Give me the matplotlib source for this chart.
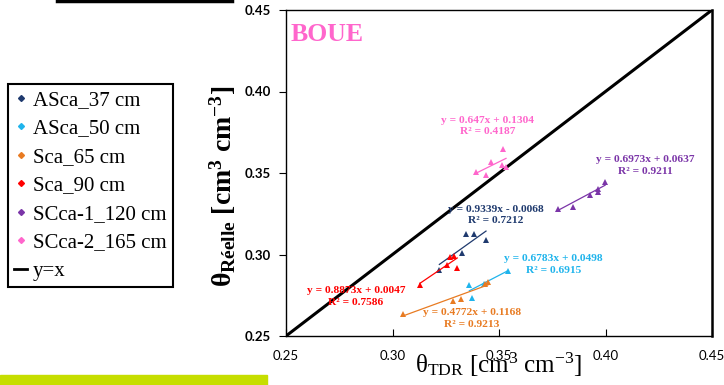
import numpy as np
import matplotlib
matplotlib.use('Agg')
import matplotlib.pyplot as plt
from matplotlib.lines import Line2D
from matplotlib.patches import Rectangle

plt.rcParams['mathtext.fontset'] = 'custom'
plt.rcParams['mathtext.rm'] = 'Liberation Serif'
plt.rcParams['mathtext.it'] = 'Liberation Serif:italic'
plt.rcParams['mathtext.bf'] = 'Liberation Serif:bold'

# series (theta TDR, theta reelle)
names = ['ASca_37 cm', 'ASca_50 cm', 'Sca_65 cm', 'Sca_90 cm', 'SCca-1_120 cm', 'SCca-2_165 cm']
colors = ['#1f3a6e', '#1fb4ec', '#e87b22', '#ff0000', '#7b35a8', '#ff66cc']

x_asca37 = [0.3345, 0.3383, 0.3439, 0.3325, 0.3220]
y_asca37 = [0.3128, 0.3128, 0.3091, 0.3009, 0.2906]
x_asca50 = [0.3544, 0.3361, 0.3430, 0.3375]
y_asca50 = [0.2896, 0.2814, 0.2820, 0.2736]
x_sca65 = [0.3049, 0.3283, 0.3322, 0.3448, 0.3434]
y_sca65 = [0.2632, 0.2715, 0.2726, 0.2832, 0.2822]
x_sca90 = [0.3270, 0.3290, 0.3258, 0.3304, 0.3129]
y_sca90 = [0.2984, 0.2992, 0.2934, 0.2918, 0.2812]
x_scca1 = [0.3776, 0.3846, 0.3927, 0.3963, 0.3966, 0.3998]
y_scca1 = [0.3280, 0.3292, 0.3368, 0.3382, 0.3403, 0.3443]
x_scca2 = [0.3520, 0.3462, 0.3392, 0.3438, 0.3513, 0.3533]
y_scca2 = [0.3645, 0.3567, 0.3505, 0.3489, 0.3548, 0.3536]

xs = [x_asca37, x_asca50, x_sca65, x_sca90, x_scca1, x_scca2]
ys = [y_asca37, y_asca50, y_sca65, y_sca90, y_scca1, y_scca2]

# trend line coefficients and R2 as printed on the chart
slopes = [0.9339, 0.6783, 0.4772, 0.8873, 0.6973, 0.647]
intercepts = [-0.0068, 0.0498, 0.1168, 0.0047, 0.0637, 0.1304]
r2 = ['0.7212', '0.6915', '0.9213', '0.7586', '0.9211', '0.4187']
eq_text = ['y = 0.9339x - 0.0068', 'y = 0.6783x + 0.0498', 'y = 0.4772x + 0.1168',
           'y = 0.8873x + 0.0047', 'y = 0.6973x + 0.0637', 'y = 0.647x + 0.1304']
# where each equation sits (data coords, centre of the two lines)
eq_x = [0.3486, 0.3756, 0.3373, 0.2829, 0.4185, 0.3448]
eq_y = [0.3242, 0.2940, 0.2609, 0.2743, 0.3546, 0.3788]

ticks = [0.25, 0.30, 0.35, 0.40, 0.45]

fig = plt.figure(figsize=(7.24, 3.85), dpi=100)
ax = fig.add_axes([286/724, 1-336/385, 426/724, 326/385])

ax.plot([0.25, 0.45], [0.25, 0.45], color='black', lw=2.2, zorder=2)

for i in range(len(names)):
    ax.plot(xs[i], ys[i], '^', color=colors[i], ms=4, mew=0, zorder=3)
    xl = np.array([min(xs[i]), max(xs[i])])
    ax.plot(xl, slopes[i]*xl + intercepts[i], color=colors[i], lw=0.9, zorder=3)
    ax.text(eq_x[i], eq_y[i], eq_text[i] + '\n' + 'R² = ' + r2[i], color=colors[i],
            ha='center', va='center', fontsize=8.2, fontweight='bold',
            family='Liberation Serif', linespacing=1.4, zorder=4)

ax.text(0.252, 0.4352, 'BOUE', color='#ff66cc', fontsize=18.5, fontweight='bold',
        family='Liberation Serif', ha='left', va='center')

ax.set_xlim(0.25, 0.45)
ax.set_ylim(0.25, 0.45)
ax.set_xticks(ticks)
ax.set_yticks(ticks)
ax.set_xticklabels(['%.2f' % t for t in ticks], family='Lato', fontsize=9.5)
ax.set_yticklabels(['%.2f' % t for t in ticks], family='Lato', fontsize=9.5, fontweight='bold')
ax.tick_params(axis='x', direction='in', length=5, pad=10)
ax.tick_params(axis='y', direction='out', length=5, pad=6)
for s in ax.spines.values():
    s.set_linewidth(1.0)
ax.spines['right'].set_linewidth(1.8)

ax.set_xlabel('θ$_{\\mathrm{TDR}}$ [cm$^3$ cm$^{-3}$]', family='Liberation Serif',
              fontsize=18, labelpad=-8)
ax.set_ylabel('θ$_{\\mathbf{Réelle}}$ [cm$^{\\mathbf{3}}$ cm$^{\\mathbf{-3}}$]',
              family='Liberation Serif', fontweight='bold', fontsize=20)
ax.yaxis.set_label_coords(-0.113, 0.46)

handles = [Line2D([], [], marker='D', ls='', color=c, ms=3) for c in colors]
handles.append(Line2D([], [], color='black', lw=2))
leg = fig.legend(handles, names + ['y=x'], loc='upper left',
                 bbox_to_anchor=(8/724, 1-84/385), bbox_transform=fig.transFigure,
                 prop={'family': 'Liberation Serif', 'size': 15}, fancybox=False,
                 edgecolor='black', framealpha=1, handlelength=0.6, handletextpad=0.3,
                 labelspacing=0.43, borderpad=0.3, borderaxespad=0)
leg.get_frame().set_linewidth(1.5)

# slide decorations around the chart
fig.patches.append(Rectangle((0, 0), 267/724, 10/385, transform=fig.transFigure,
                             color='#c6de00', zorder=0))
fig.lines.append(Line2D([57/724, 232/724], [1-1/385, 1-1/385], transform=fig.transFigure,
                        color='black', lw=2.5))

fig.savefig('out.png', dpi=100)
